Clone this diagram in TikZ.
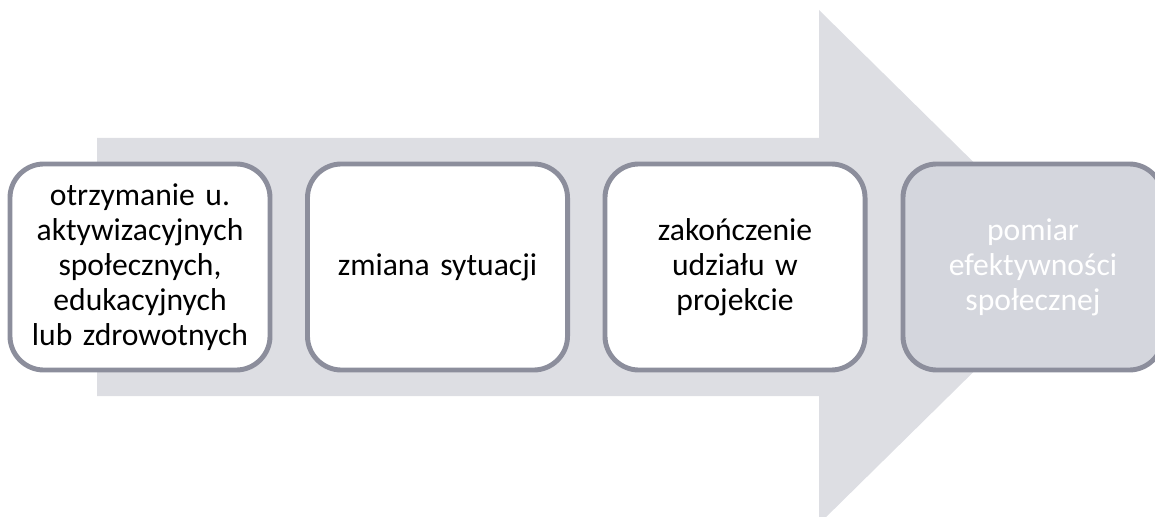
\documentclass[tikz,border=0pt]{standalone}
\usepackage{fontspec}
\setmainfont{Carlito}
\usetikzlibrary{calc}
\definecolor{arrowgray}{RGB}{221,222,227}
\definecolor{boxgray}{RGB}{212,214,221}
\definecolor{bordergray}{RGB}{140,142,156}
\tikzstyle{stepbox}=[rectangle,rounded corners=0.85cm,draw=bordergray,line width=3.5pt,fill=white,minimum width=6.5cm,minimum height=5.15cm,inner sep=0pt,align=center,text width=6.3cm,font=\fontsize{22.5}{24.8}\selectfont]
\tikzstyle{laststep}=[stepbox,fill=boxgray,text=white]

\begin{document}
\begin{tikzpicture}[x=0.025cm,y=-0.025cm]
\useasboundingbox (0,0) rectangle (1155,517);

% big arrow behind the steps
\fill[arrowgray] (97,138) -- (819,138) -- (819,10) -- (1080,267) -- (819,524) -- (819,396) -- (97,396) -- cycle;

% steps
\foreach \pos/\name/\label in {{(140,267)/s1/{otrzymanie u.\\aktywizacyjnych\\społecznych,\\edukacyjnych\\lub zdrowotnych}}, {(437.5,267)/s2/{zmiana sytuacji}}, {(735,267)/s3/{zakończenie\\udziału w\\projekcie}}}
    \node[stepbox] (\name) at \pos {\label};

% last step
\node[laststep] (s4) at (1033,267) {pomiar\\efektywności\\społecznej};

\end{tikzpicture}
\end{document}
